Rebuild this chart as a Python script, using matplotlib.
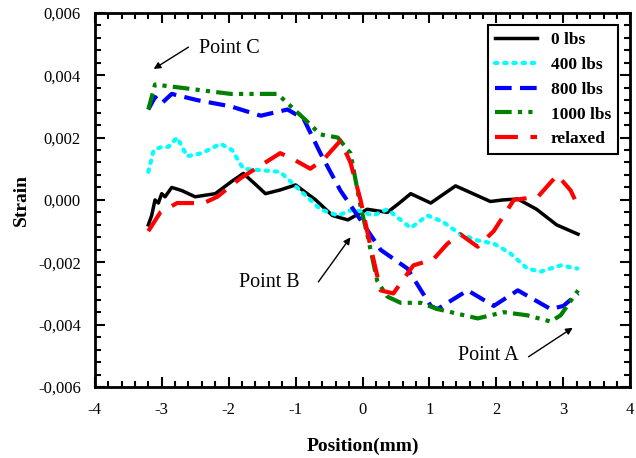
import numpy as np
import matplotlib
matplotlib.use("Agg")
import matplotlib.pyplot as plt
from matplotlib.ticker import FuncFormatter, MultipleLocator

plt.rcParams['font.family'] = ['Liberation Serif', 'DejaVu Serif']

# values
x_0 = [-3.2, -3.15, -3.1, -3.05, -3.0, -2.95, -2.85, -2.7, -2.5, -2.2, -1.95, -1.78, -1.6, -1.45, -1.23, -1.0,
       -0.7, -0.45, -0.22, 0.07, 0.37, 0.55, 0.72, 1.02, 1.39, 1.65, 1.91, 2.1, 2.32, 2.6, 2.9, 3.22]
y_0 = [-0.0008, -0.0005, 0.0, -0.0001, 0.0002, 0.0001, 0.0004, 0.0003, 0.0001, 0.0002, 0.0006, 0.00085, 0.0005,
       0.0002, 0.00032, 0.00048, 0.0, -0.0005, -0.00064, -0.0003, -0.0004, -0.0001, 0.0002, -0.0001, 0.00045,
       0.0002, -0.00005, 0.0, 0.00003, -0.0003, -0.0008, -0.0011]

x_400 = [-3.2, -3.12, -3.0, -2.9, -2.77, -2.62, -2.4, -2.12, -1.95, -1.78, -1.23, -0.93, -0.63, -0.37, -0.13, 0.16,
         0.37, 0.72, 0.97, 1.2, 1.46, 1.72, 1.96, 2.2, 2.46, 2.66, 2.96, 3.21]
y_400 = [0.0009, 0.0016, 0.0017, 0.0017, 0.002, 0.0014, 0.0015, 0.0018, 0.0016, 0.001, 0.0009, 0.0003, -0.0003,
         -0.0005, -0.0003, -0.0005, -0.0003, -0.0009, -0.0005, -0.0007, -0.0011, -0.0013, -0.0014, -0.0017,
         -0.0022, -0.0023, -0.0021, -0.0022]

x_800 = [-3.2, -3.1, -3.0, -2.85, -2.47, -1.97, -1.52, -1.12, -0.88, -0.63, -0.33, -0.03, 0.27, 0.67, 1.02,
         1.12, 1.57, 1.96, 2.32, 2.81, 3.0, 3.22]
y_800 = [0.0029, 0.0033, 0.0031, 0.0034, 0.0032, 0.003, 0.0027, 0.0029, 0.0026, 0.0015, 0.0003, -0.00064, -0.0016,
         -0.0022, -0.0034, -0.0035, -0.0029, -0.0034, -0.0029, -0.0035, -0.0034, -0.003]

x_1000 = [-3.2, -3.1, -2.72, -1.97, -1.27, -1.12, -0.82, -0.63, -0.37, -0.18, -0.03, 0.07, 0.22, 0.37, 0.57,
          0.87, 1.12, 1.72, 2.11, 2.46, 2.81, 2.96, 3.22]
y_1000 = [0.0029, 0.0037, 0.0036, 0.0034, 0.0034, 0.0031, 0.0025, 0.0021, 0.002, 0.0015, -0.0002, -0.0011,
          -0.0026, -0.0031, -0.0033, -0.0033, -0.0035, -0.0038, -0.0036, -0.0037, -0.0039, -0.0037, -0.0029]

x_rel = [-3.2, -3.02, -2.77, -2.37, -2.17, -1.82, -1.23, -1.03, -0.78, -0.58, -0.33, -0.18, -0.03, 0.12,
         0.27, 0.46, 0.76, 1.06, 1.27, 1.46, 1.72, 1.96, 2.26, 2.62, 2.91, 3.11, 3.22]
y_rel = [-0.001, -0.0004, -0.0001, -0.0001, 0.0001, 0.0007, 0.0015, 0.0013, 0.001, 0.0013, 0.0019, 0.0012, 0.0,
         -0.0015, -0.0029, -0.003, -0.0021, -0.0019, -0.0014, -0.0011, -0.0015, -0.001, 0.0, 0.0001,
         0.0008, 0.0003, -0.0002]

# annotation labels: (text, text position, arrow tail, arrow tip)
notes = [
    ('Point C', (-1.99, 0.00487), (-2.60, 0.0049), (-3.12, 0.0042)),
    ('Point B', (-1.39, -0.00265), (-0.66, -0.00263), (-0.18, -0.0012)),
    ('Point A', (1.88, -0.0050), (2.48, -0.00503), (3.14, -0.0041)),
]

fig = plt.figure(figsize=(6.36, 4.58), dpi=100)
ax = fig.add_axes([0.149, 0.155, 0.842, 0.817])

ax.plot(x_0, y_0, color='black', lw=2.5, label='0 lbs')
ax.plot(x_400, y_400, color='cyan', lw=3, linestyle=(0, (0.6, 1.6)), dash_capstyle='round', label='400 lbs')
ax.plot(x_800, y_800, color='blue', lw=3, linestyle=(0, (4, 2)), label='800 lbs')
ax.plot(x_1000, y_1000, color='green', lw=3, linestyle=(0, (4, 1.5, 1, 1.5, 1, 1.5)), label='1000 lbs')
ax.plot(x_rel, y_rel, color='red', lw=3, linestyle=(0, (5.5, 3)), label='relaxed')

ax.set_xlim(-4, 4)
ax.set_ylim(-0.006, 0.006)
ax.xaxis.set_major_locator(MultipleLocator(1))
ax.xaxis.set_minor_locator(MultipleLocator(0.2))
ax.yaxis.set_major_locator(MultipleLocator(0.002))
ax.yaxis.set_minor_locator(MultipleLocator(0.0004))
ax.yaxis.set_major_formatter(FuncFormatter(lambda v, p: f"{v:.3f}".replace('.', ',').replace('-0,000', '0,000')))
ax.xaxis.set_major_formatter(FuncFormatter(lambda v, p: f"{v:.0f}"))
ax.tick_params(which='both', direction='in', top=True, right=True, width=1.5, labelsize=12)
ax.tick_params(which='major', length=7)
ax.tick_params(which='minor', length=4)
ax.tick_params(axis='x', which='major', pad=11)
ax.tick_params(axis='y', which='major', pad=10)
for s in ax.spines.values():
    s.set_linewidth(2)

ax.set_xlabel('Position(mm)', fontsize=14, fontweight='bold', labelpad=14)
ax.set_ylabel('Strain', fontsize=14, fontweight='bold', labelpad=6)

leg = ax.legend(loc='upper right', prop={'weight': 'bold', 'size': 12.5}, handlelength=2.4,
                fancybox=False, edgecolor='black', framealpha=1, borderaxespad=0.7)
leg.get_frame().set_linewidth(1.5)

for label, pos, tail, tip in notes:
    ax.text(pos[0], pos[1], label, fontsize=14.5, ha='center', va='center')
    ax.annotate('', xy=tip, xytext=tail,
                arrowprops=dict(arrowstyle='-|>', color='black', lw=1, mutation_scale=10,
                                shrinkA=0, shrinkB=0))

fig.savefig('out.png', dpi=100)
